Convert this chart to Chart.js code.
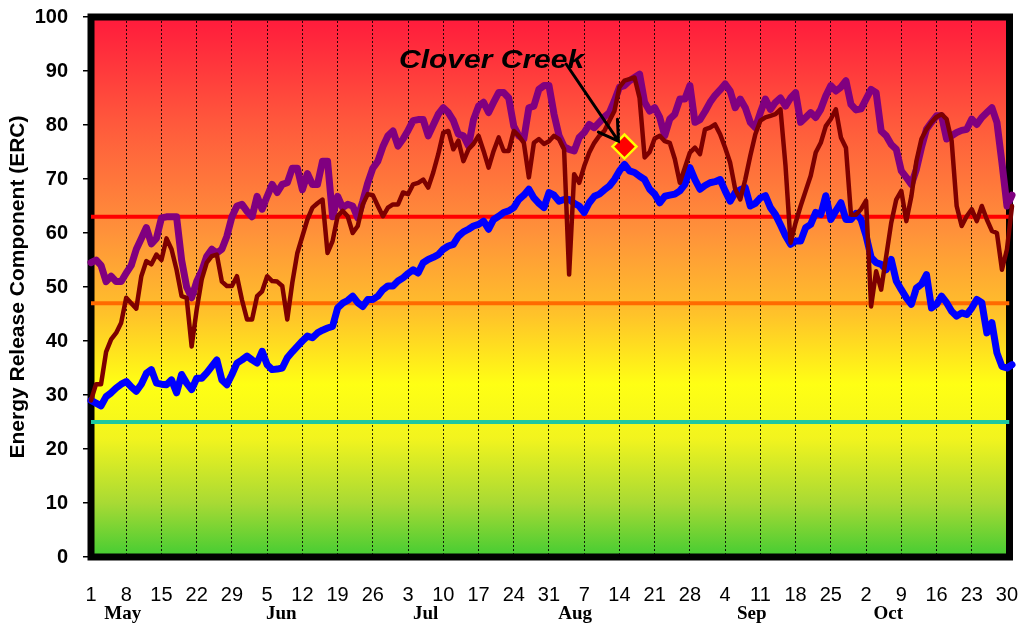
<!DOCTYPE html>
<html lang="en">
<head>
<meta charset="UTF-8">
<title>Energy Release Component - Clover Creek</title>
<script src="https://cdn.jsdelivr.net/npm/chart.js"></script>
<style>
  html, body { margin: 0; padding: 0; background: #fff; }
  #wrap { width: 1024px; height: 623px; }
</style>
</head>
<body>
<div id="wrap"><canvas id="ercChart"></canvas></div>
<script>
// day 0 = May 1 ... day 183 = Oct 31
const tickLabels = ['1','8','15','22','29','5','12','19','26','3','10','17','24','31',
                    '7','14','21','28','4','11','18','25','2','9','16','23','30'];
const tickDays = tickLabels.map((_, i) => i * 7);
const monthNames = ['May', 'Jun', 'Jul', 'Aug', 'Sep', 'Oct'];
const monthLabelDays = [6.3, 37.8, 66.5, 96.2, 131.3, 158.4];

// purple line
const maxErc = [
  54.5, 55, 54, 51, 52, 51, 51, 52.6, 54, 57, 59, 61, 58, 59, 62.8, 63, 63, 63, 55, 50,
  48, 51, 53, 55.7, 57, 56.3, 57, 59.4, 63, 65, 65.3, 64, 63, 66.8, 64.4, 66.8, 69, 67.5, 69, 69.3,
  72, 72, 68, 71, 69, 69, 73.3, 73.3, 63, 66.8, 64.7, 65.3, 65, 62.8, 65.9, 69.3, 72, 73.3, 76, 78,
  78.9, 76.1, 77.4, 79, 80.8, 81, 81, 78, 80, 82, 83.2, 82.3, 80.8, 78.3, 78, 76.1, 81, 83.5, 84.2, 82.3,
  84.2, 86, 86, 85, 79.8, 78, 77.4, 83.2, 83.5, 86.6, 87.3, 87.3, 82, 78, 76, 75.5, 75.2, 77.7, 78.6, 80.1,
  79.5, 80.5, 81.5, 82.3, 84.5, 87, 87.3, 88.2, 88.8, 89.4, 84.2, 82.6, 83.2, 81.4, 78, 81.1, 82, 84.8, 84.8, 87.3,
  80.5, 81, 82.5, 84.2, 85.5, 86.5, 87.6, 86.3, 83.2, 84.8, 83.2, 80.5, 79.5, 82.3, 84.8, 82.9, 84.2, 85, 83.5, 85,
  86, 80.5, 81.4, 82.3, 81.4, 82.9, 85.4, 87.3, 86.3, 87, 88.2, 83.8, 82.8, 83, 84.8, 86.6, 86, 78.9, 78, 76.4,
  75.5, 71.5, 70.3, 69, 71.8, 75.8, 79.2, 80.5, 81.7, 81.7, 77.4, 78, 78.6, 79, 79.2, 81.1, 80.1, 81.4, 82.3, 83.2,
  80.5, 73, 65, 67
];

// dark red line
const yearErc = [
  29, 32, 32, 38, 40.3, 41.5, 43.4, 48, 47, 46, 52, 54.8, 54.2, 56, 55, 59, 57, 53.2, 48.3, 48,
  39, 45.8, 51.4, 54.5, 55.7, 56, 51, 50.2, 50.2, 52, 47.6, 44, 44, 48.3, 49.2, 52, 51.1, 51, 50.2, 44,
  50.8, 56.3, 59.4, 62.5, 64.7, 65.5, 66.2, 56.3, 58.5, 63.1, 64.1, 63.1, 60, 61.3, 65.3, 67.2, 67, 65, 63.1, 64.7,
  65.3, 65.3, 67.5, 67.2, 69, 69.3, 69.9, 68.4, 71.2, 74.6, 78.6, 78.9, 75.5, 77.1, 73.3, 75.5, 76.5, 78, 75.2, 72.1,
  75.2, 77.7, 75.2, 75.2, 78.9, 78, 76.7, 70.3, 76.7, 77.4, 76.5, 77, 78, 77.4, 75.5, 52.3, 70.9, 69.3, 72.4, 74.9,
  76.7, 78, 78.9, 80.8, 82.6, 87, 88.2, 88.5, 88.8, 85, 74, 75, 77.5, 78, 77, 76.7, 73.7, 69.3, 72.1, 74.9,
  75.8, 74.6, 79.2, 79.5, 80.1, 78.3, 75.8, 73, 68.1, 66.2, 69.9, 74.3, 78.3, 80.8, 81.4, 81.7, 82, 82.9, 72.4, 58.2,
  61.9, 65, 67.8, 70.6, 74.9, 76.7, 79.8, 81.1, 82.9, 77.7, 75.8, 63.4, 63.4, 64.4, 66, 46.4, 52.9, 49.5, 55.7, 61.9,
  66.2, 67.8, 62.2, 66.8, 73.3, 77.4, 79.2, 80.5, 81.5, 82, 81.1, 77.1, 65, 61.3, 63.1, 64.4, 62.2, 65, 62.5, 60.4,
  60, 53.2, 57, 65
];

// blue line
const avgErc = [
  29, 28.5, 28, 29.7, 30.4, 31.3, 32, 32.5, 31.5, 30.7, 32, 34, 34.7, 32.2, 32, 31.9, 32.8, 30.4, 33.8, 32.2,
  31, 33.1, 33.1, 34.1, 35.3, 36.5, 32.8, 31.9, 33.8, 35.9, 36.5, 37.2, 36.5, 35.9, 38.1, 35.6, 34.7, 34.8, 35, 36.9,
  38, 39, 40, 40.9, 40.6, 41.5, 42, 42.4, 42.7, 46.1, 47, 47.5, 48.3, 47.1, 46.4, 47.7, 47.7, 48.3, 49.5, 50.2,
  50.2, 51.1, 51.7, 52.5, 53.2, 52.6, 54.5, 55.1, 55.5, 56, 57, 57.6, 57.9, 59.4, 60.2, 60.7, 61.3, 61.6, 62.2, 60.7,
  62.5, 63.1, 63.8, 64.1, 64.7, 66.2, 67, 68.1, 66.5, 65.5, 64.7, 67.5, 67, 65.9, 66.2, 66.2, 65.5, 65, 63.8, 65.6,
  66.8, 67.2, 68, 68.7, 69.9, 71.5, 72.7, 71.5, 71.2, 70.5, 69.9, 68.1, 67.2, 65.6, 66.8, 67, 67.2, 67.8, 69, 72.1,
  69.9, 68.1, 68.8, 69.3, 69.5, 69.9, 67.8, 65.9, 67.5, 68, 68.4, 65, 65.5, 66.5, 66.9, 64.7, 63.4, 61.5, 59.5, 57.9,
  58.5, 58.5, 61, 61.6, 63.8, 63.4, 66.9, 62.5, 64.1, 65.6, 62.5, 62.5, 63.6, 62.5, 59.5, 55.5, 54.5, 54.2, 53.2, 55.1,
  51.1, 49.5, 48, 46.8, 49.8, 50.5, 52.3, 46.1, 46.8, 48.3, 47.1, 45.5, 44.6, 45.2, 44.9, 46.1, 47.7, 47.1, 41.5, 43.4,
  37.8, 35.3, 35, 35.6
];

const thresholdErc = [63, 47, 25];
const thresholdColors = ['#ff0000', '#ff6a00', '#1ec8a0'];

// fire marker + label
const fireDay = 106;
const fireErc = 76;
const fireName = 'Clover Creek';
const fireLabelAt = [61.2, 90.6];   // day, erc of text start
const arrowTail = [94.4, 91.3];
const arrowTip = [104.8, 77.0];

// background colour by ERC
const bgStops = [[100, '#ff1a3c'], [80, '#ff5a3c'], [60, '#ff923a'], [45, '#ffc22a'],
                 [32, '#ffff14'], [22, '#f2f41e'], [10, '#a8da34'], [0, '#44cc33']];

const toXY = arr => arr.map((v, i) => ({x: i, y: v}));

const ercPlugin = {
  id: 'ercDecor',
  beforeDraw(chart) {
    const {ctx, chartArea: a, scales: {y}} = chart;
    const g = ctx.createLinearGradient(0, y.getPixelForValue(100), 0, y.getPixelForValue(0));
    bgStops.forEach(([v, c]) => g.addColorStop(1 - v / 100, c));
    ctx.save();
    ctx.fillStyle = g;
    ctx.fillRect(a.left, a.top, a.right - a.left, a.bottom - a.top);
    ctx.restore();
  },
  beforeDatasetsDraw(chart) {
    const {ctx, chartArea: a} = chart;
    ctx.save();
    ctx.strokeStyle = '#000';
    ctx.lineWidth = 7;
    ctx.strokeRect(a.left, a.top, a.right - a.left, a.bottom - a.top);
    ctx.restore();
  },
  afterDatasetsDraw(chart) {
    const {ctx, scales: {x, y}} = chart;
    ctx.save();
    // label
    ctx.translate(x.getPixelForValue(fireLabelAt[0]), y.getPixelForValue(fireLabelAt[1]));
    ctx.scale(1.2, 1);
    ctx.font = 'italic bold 25px "Liberation Sans", Arial, sans-serif';
    ctx.fillStyle = '#000';
    ctx.textAlign = 'left';
    ctx.textBaseline = 'alphabetic';
    ctx.fillText(fireName, 0, 0);
    ctx.restore();

    // arrow
    const x0 = x.getPixelForValue(arrowTail[0]), y0 = y.getPixelForValue(arrowTail[1]);
    const x1 = x.getPixelForValue(arrowTip[0]), y1 = y.getPixelForValue(arrowTip[1]);
    const ang = Math.atan2(y1 - y0, x1 - x0);
    const head = 22;
    ctx.save();
    ctx.strokeStyle = '#000';
    ctx.lineWidth = 3;
    ctx.lineCap = 'round';
    ctx.beginPath();
    ctx.moveTo(x0, y0);
    ctx.lineTo(x1, y1);
    ctx.moveTo(x1 - head * Math.cos(ang - 0.55), y1 - head * Math.sin(ang - 0.55));
    ctx.lineTo(x1, y1);
    ctx.lineTo(x1 - head * Math.cos(ang + 0.55), y1 - head * Math.sin(ang + 0.55));
    ctx.stroke();
    ctx.restore();
  },
  afterDraw(chart) {
    const {ctx, chartArea: a, scales: {x}} = chart;
    ctx.save();
    ctx.font = 'bold 19px "Liberation Serif", "Times New Roman", serif';
    ctx.fillStyle = '#000';
    ctx.textAlign = 'center';
    ctx.textBaseline = 'alphabetic';
    monthNames.forEach((m, i) => ctx.fillText(m, x.getPixelForValue(monthLabelDays[i]), a.bottom + 62));
    ctx.restore();
  }
};

Chart.defaults.font.family = '"Liberation Sans", Arial, sans-serif';
Chart.defaults.color = '#000';

const ctx = document.getElementById('ercChart').getContext('2d');
new Chart(ctx, {
  type: 'line',
  data: {
    datasets: [
      {
        label: fireName,
        data: [{x: fireDay, y: fireErc}],
        showLine: false,
        pointStyle: 'rectRot',
        pointRadius: 12,
        pointBackgroundColor: '#ff0000',
        pointBorderColor: '#ffff00',
        pointBorderWidth: 2.5,
        clip: false
      },
      {
        label: 'Year',
        data: toXY(yearErc),
        borderColor: '#7d0000',
        borderWidth: 4.5,
        pointRadius: 0,
        tension: 0,
        borderJoinStyle: 'round',
        borderCapStyle: 'round',
        clip: false
      },
      {
        label: 'Average',
        data: toXY(avgErc),
        borderColor: '#0000ff',
        borderWidth: 7,
        pointRadius: 0,
        tension: 0,
        borderJoinStyle: 'round',
        borderCapStyle: 'round',
        clip: false
      },
      {
        label: 'Maximum',
        data: toXY(maxErc),
        borderColor: '#800080',
        borderWidth: 7,
        pointRadius: 0,
        tension: 0,
        borderJoinStyle: 'round',
        borderCapStyle: 'round',
        clip: false
      },
      ...thresholdErc.map((v, i) => ({
        label: 'Threshold ' + v,
        data: [{x: 0, y: v}, {x: 182.5, y: v}],
        borderColor: thresholdColors[i],
        borderWidth: 4,
        pointRadius: 0
      }))
    ]
  },
  options: {
    responsive: true,
    maintainAspectRatio: false,
    animation: false,
    events: [],
    layout: { padding: { top: 17, right: 11, bottom: 0, left: 0 } },
    plugins: {
      legend: { display: false },
      tooltip: { enabled: false }
    },
    scales: {
      x: {
        type: 'linear',
        min: 0,
        max: 182.5,
        afterBuildTicks: s => { s.ticks = tickDays.map(v => ({value: v})); },
        afterFit: s => { s.height = 66; s.paddingLeft = 0; s.paddingRight = 0; },
        grid: { color: 'rgba(0,0,0,0.85)', lineWidth: 1, drawTicks: false },
        border: { display: false, dash: [2, 2] },
        ticks: {
          autoSkip: false,
          maxRotation: 0,
          padding: 26,
          color: '#000',
          font: { size: 20 },
          callback: (v, i) => tickLabels[i]
        }
      },
      y: {
        min: 0,
        max: 100,
        afterFit: s => { s.width = 91; s.paddingTop = 0; s.paddingBottom = 0; },
        grid: { drawOnChartArea: false, drawTicks: true, tickLength: 8, color: '#000', lineWidth: 1.5 },
        border: { display: false },
        ticks: { stepSize: 10, padding: 15, color: '#000', font: { size: 20, weight: 'bold' } },
        title: {
          display: true,
          text: 'Energy Release Component (ERC)',
          color: '#000',
          font: { size: 21, weight: 'bold' },
          padding: { top: 6, bottom: 0 }
        }
      }
    }
  },
  plugins: [ercPlugin]
});
</script>
</body>
</html>
